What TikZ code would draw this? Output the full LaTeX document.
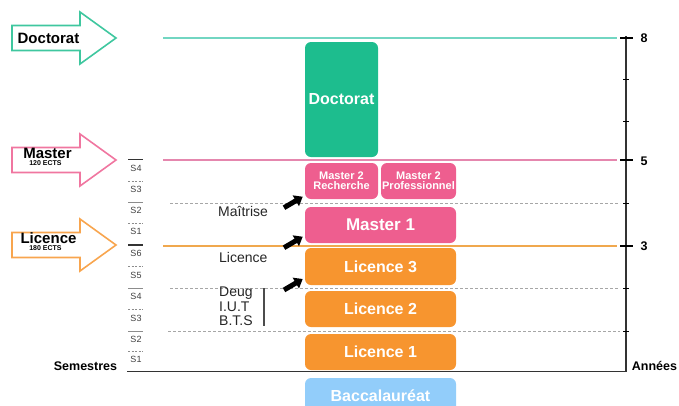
\documentclass[tikz,border=0pt]{standalone}
\usepackage{fontspec}
\setmainfont{Liberation Sans}
\usetikzlibrary{arrows.meta}
\definecolor{docgreen}{HTML}{1DBD8E}
\definecolor{mastpink}{HTML}{EE5E8F}
\definecolor{licorange}{HTML}{F7952F}
\definecolor{bacblue}{HTML}{92CDFA}
\definecolor{docline}{HTML}{72D6C2}
\definecolor{mastline}{HTML}{E587AE}
\definecolor{licline}{HTML}{F0A84E}
\def\fs#1{\fontsize{#1}{#1}\selectfont}
\def\bigarrow[#1](#2,#3){\draw[#1] (#2,#3-12.5) -- ++(68,0) -- ++(0,-13.5) -- (#2+104,#3) -- (#2+68,#3+26) -- ++(0,-13.5) -- (#2,#3+12.5) -- cycle;}
\tikzset{
  box/.style={rounded corners=6pt, inner sep=0pt, text=white, font=\bfseries\fs{16}, align=center},
  arrowtext/.style={font=\bfseries\fs{15}, inner sep=0pt},
  ectstext/.style={font=\bfseries\fs{7}, inner sep=0pt},
  semtext/.style={font=\fs{9}, text=black!75, inner sep=0pt},
  oldtext/.style={font=\fs{14}, anchor=west, inner sep=0pt, text=black!85},
  yeartext/.style={font=\bfseries\fs{12.5}, inner sep=0pt},
  gridline/.style={densely dashed, black!35, line width=0.8pt},
  moveto/.style={line width=5pt, -{Triangle[length=8pt,width=12pt]}}
}

\begin{document}
\begin{tikzpicture}[x=1pt, y=-1pt]
			%%%%% START %%%%%
			\clip (0,0) rectangle (679,405);
			
			% level lines
			\draw[docline, line width=1.3pt] (163,38) -- (617,38);
			\draw[mastline, line width=1.3pt] (163,160) -- (617,160);
			\draw[licline, line width=1.4pt] (163,246) -- (617,246);
			\draw[gridline] (170,203) -- (620,203);
			\draw[gridline] (170,288) -- (620,288);
			\draw[gridline] (168,331) -- (620,331);
			
			% years axis
			\draw[line width=1.3pt, black!80] (626,36) -- (626,371.7) -- (127,371.7);
			\foreach \y in {38,160,246}
				\draw[line width=2pt] (620,\y) -- (633,\y);
			\foreach \y in {79,121.5,203,288,331}
				\draw[line width=1pt] (623,\y) -- (629,\y);
			\node[yeartext] (y8) at (644,38) {8};
			\node[yeartext] (y5) at (644,161) {5};
			\node[yeartext] (y3) at (644,246) {3};
			\node[yeartext] (annees) at (654.5,366) {Années};
			\node[yeartext] (semestres) at (85.5,366) {Semestres};
			
			% semesters
			\foreach \y in {159.5,245}
				\draw[line width=1.5pt, black!80] (128,\y) -- (143,\y);
			\foreach \y in {202,288,331}
				\draw[line width=0.8pt, black!45] (128,\y) -- (143,\y);
			\foreach \y in {181,223,266.5,309.5,351}
				\draw[line width=0.8pt, black!45, dash pattern=on 2pt off 1.5pt] (128,\y) -- (143,\y);
			\node[semtext] (s4m) at (136,168) {S4};
			\node[semtext] (s3m) at (136,189) {S3};
			\node[semtext] (s2m) at (136,210.5) {S2};
			\node[semtext] (s1m) at (136,231) {S1};
			\node[semtext] (s6l) at (136,253) {S6};
			\node[semtext] (s5l) at (136,275) {S5};
			\node[semtext] (s4l) at (136,296.5) {S4};
			\node[semtext] (s3l) at (136,318) {S3};
			\node[semtext] (s2l) at (136,339.5) {S2};
			\node[semtext] (s1l) at (136,359.5) {S1};
			
			% big arrows
			\bigarrow[docgreen!85, line width=1.6pt, fill=white](12,38);
			\bigarrow[mastpink!85, line width=1.6pt, fill=white](12,160);
			\bigarrow[licorange!85, line width=1.6pt, fill=white](12,245);
			\node[arrowtext] (adoc) at (48.5,38) {Doctorat};
			\node[arrowtext] (amast) at (47.5,153) {Master};
			\node[ectstext] (amastects) at (45.5,163.5) {120 ECTS};
			\node[arrowtext] (alic) at (48.5,238) {Licence};
			\node[ectstext] (alicects) at (45.5,248.5) {180 ECTS};
			
			% boxes
			\node[box, fill=docgreen, minimum width=73pt, minimum height=115pt] (doctorat) at (341.5,99.5) {Doctorat};
			\node[box, fill=mastpink, minimum width=73pt, minimum height=36pt, font=\bfseries\fs{11}] (m2rech) at (341.5,181) {Master 2\\[-1pt]Recherche};
			\node[box, fill=mastpink, minimum width=75pt, minimum height=36pt, font=\bfseries\fs{11}] (m2pro) at (418.5,181) {Master 2\\[-1pt]Professionnel};
			\node[box, fill=mastpink, minimum width=151pt, minimum height=36pt, font=\bfseries\fs{17}] (master1) at (380.5,225) {Master 1};
			\node[box, fill=licorange, minimum width=151pt, minimum height=37pt] (licence3) at (380.5,266.5) {Licence 3};
			\node[box, fill=licorange, minimum width=151pt, minimum height=36pt] (licence2) at (380.5,309) {Licence 2};
			\node[box, fill=licorange, minimum width=151pt, minimum height=36pt] (licence1) at (380.5,352) {Licence 1};
			\node[box, fill=bacblue, minimum width=151pt, minimum height=36pt] (bac) at (380.5,396) {Baccalauréat};
			
			% old diplomas
			\node[oldtext] (maitrise) at (218,211) {Maîtrise};
			\node[oldtext] (oldlic) at (219,257) {Licence};
			\node[oldtext, align=left, font=\fontsize{14}{14.5}\selectfont] (deug) at (219,306.5) {Deug\\I.U.T\\B.T.S};
			\draw[line width=1.2pt, black!70] (264,288) -- (264,326);
			
			\coordinate (fromm) at (284,207.7);
			\coordinate (tom) at (302.7,196.7);
			\coordinate (froml) at (284,247.7);
			\coordinate (tol) at (302.7,236.7);
			\coordinate (fromd) at (284,290);
			\coordinate (tod) at (302.7,279);
			\draw[moveto] (fromm) -- (tom);
			\draw[moveto] (froml) -- (tol);
			\draw[moveto] (fromd) -- (tod);
			%%%%% END %%%%%
\end{tikzpicture}
\end{document}
